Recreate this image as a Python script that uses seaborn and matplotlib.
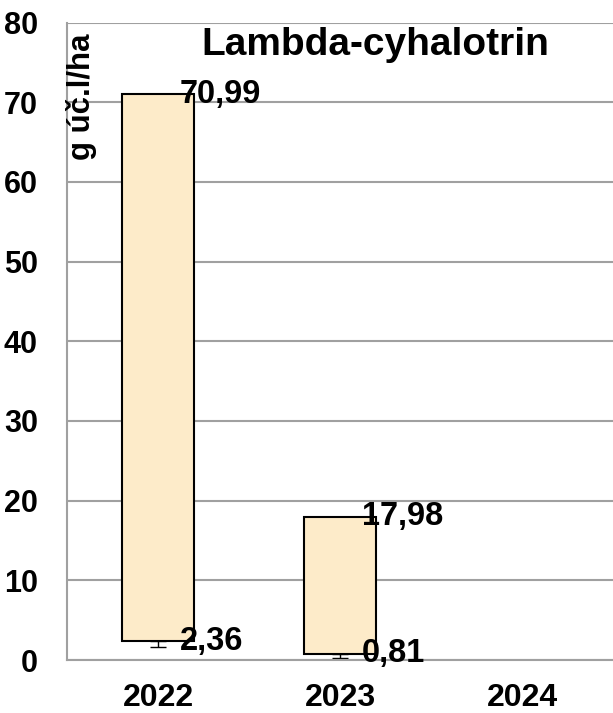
import pandas as pd
import matplotlib.pyplot as plt
import seaborn as sns

years = ['2022', '2023', '2024']
bar_years = ['2022', '2023']
low_vals = [2.36, 0.81]
high_vals = [70.99, 17.98]
whisker_low = [1.65, 0.2]
low_labels = ['2,36', '0,81']
high_labels = ['70,99', '17,98']

df = pd.DataFrame({'Year': bar_years, 'Low': low_vals, 'High': high_vals})
df['Span'] = df['High'] - df['Low']

sns.set_theme(style='white')
plt.rcParams['font.family'] = ['Liberation Sans', 'DejaVu Sans']
plt.rcParams['font.weight'] = 'bold'
plt.rcParams['text.color'] = 'black'
plt.rcParams['xtick.color'] = 'black'
plt.rcParams['ytick.color'] = 'black'

fig = plt.figure(figsize=(6.13, 7.13), dpi=100)
ax = fig.add_axes([0.1093, 0.0743, 0.8907, 0.8941])

sns.barplot(data=df, x='Year', y='Span', order=years, bottom=df['Low'].tolist(),
            color='#FDEBC9', saturation=1, width=0.4,
            edgecolor='black', linewidth=1.5, ax=ax, zorder=3)

# small whisker under each box
xs = [years.index(y) for y in bar_years]
ax.errorbar(xs, low_vals,
            yerr=[[l - w for l, w in zip(low_vals, whisker_low)], [0, 0]],
            fmt='none', ecolor='black', elinewidth=1, capsize=6, capthick=1, zorder=2)

for x, lo, hi, ll, hl in zip(xs, low_vals, high_vals, low_labels, high_labels):
    ax.annotate(hl, xy=(x, hi), xytext=(15.5, 0), textcoords='offset points',
                ha='left', va='center', fontsize=23.5, fontweight='bold', color='black', zorder=5)
    ax.annotate(ll, xy=(x, lo), xytext=(15.5, 0), textcoords='offset points',
                ha='left', va='center', fontsize=23.5, fontweight='bold', color='black', zorder=5)

ax.set_ylim(0, 80)
ax.set_xlim(-0.5, 2.5)
ax.set_yticks(range(0, 81, 10))
ax.set_xlabel('')
ax.set_ylabel('')
ax.yaxis.grid(True, color='#a0a0a0', linewidth=1.5)
ax.set_axisbelow(True)
for s in ['top', 'right']:
    ax.spines[s].set_visible(False)
for s in ['left', 'bottom']:
    ax.spines[s].set_color('#a0a0a0')
    ax.spines[s].set_linewidth(1.5)
ax.tick_params(axis='y', length=0, pad=21, labelsize=22, labelcolor='black')
ax.tick_params(axis='x', length=0, pad=16.5, labelsize=23, labelcolor='black')
for lab in ax.get_xticklabels() + ax.get_yticklabels():
    lab.set_fontweight('bold')

ax.text(0.564, 0.949, 'Lambda-cyhalotrin', transform=ax.transAxes,
        ha='center', va='baseline', fontsize=28, fontweight='bold', color='black')
ax.text(0.027, 0.983, 'g úč.l/ha', transform=ax.transAxes, rotation=90,
        ha='center', va='top', fontsize=22.5, fontweight='bold', color='black')

plt.savefig('out.png', dpi=100)
